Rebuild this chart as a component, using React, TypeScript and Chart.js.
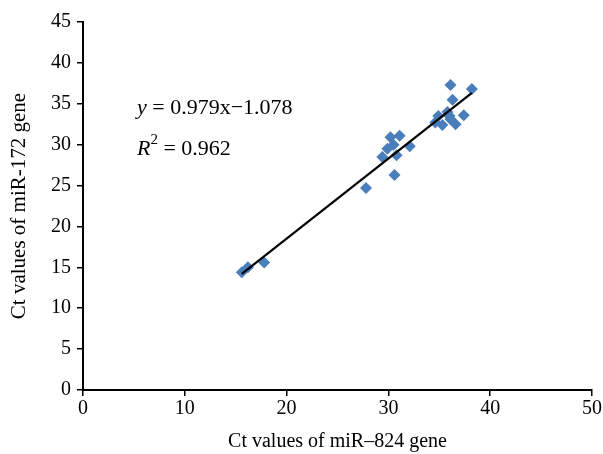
import React, { useEffect, useRef } from "react";
import { Chart, registerables } from "chart.js";

Chart.register(...registerables);

const xValues = [15.6, 16.2, 17.8, 27.8, 30.6, 29.4, 30.2, 31.1, 30.5, 29.9, 30.8, 32.1, 34.6, 34.9, 35.3, 35.8, 36.1, 36.6, 37.4, 36.3, 36.1, 38.2, 36.0];
const yValues = [14.4, 15.0, 15.6, 24.7, 26.3, 28.5, 30.9, 31.1, 30.0, 29.5, 28.7, 29.8, 32.7, 33.5, 32.4, 34.0, 33.1, 32.5, 33.6, 35.5, 37.3, 36.8, 33.5];
const slope = 0.979;
const intercept = -1.078;
const r2 = "0.962";
const xTitle = "Ct values of miR\u2013824 gene";
const yTitle = "Ct values of miR-172 gene";

const FONT = "'Liberation Serif', 'Times New Roman', serif";

export default function App() {
  const ref = useRef<HTMLCanvasElement | null>(null);
  useEffect(() => {
    document.body.style.margin = "0";
    const xMin = Math.min(...xValues);
    const xMax = Math.max(...xValues);
    const trend = [
      { x: xMin, y: slope * xMin + intercept },
      { x: xMax, y: slope * xMax + intercept },
    ];
    const annot = {
      id: "annot",
      afterDraw(chart: any) {
        const ctx = chart.ctx;
        ctx.save();
        ctx.fillStyle = "#000";
        ctx.textBaseline = "middle";
        const fs = 22;
        let x = 137;
        let y = 108;
        ctx.font = `italic ${fs}px ${FONT}`;
        ctx.fillText("y", x, y);
        x += ctx.measureText("y").width;
        ctx.font = `${fs}px ${FONT}`;
        const s1 = ` = ${slope}x\u2212${Math.abs(intercept)}`;
        ctx.fillText(s1, x, y);
        x = 137;
        y = 149;
        ctx.font = `italic ${fs}px ${FONT}`;
        ctx.fillText("R", x, y);
        x += ctx.measureText("R").width;
        ctx.font = `15px ${FONT}`;
        ctx.fillText("2", x, y - 9);
        x += ctx.measureText("2").width;
        ctx.font = `${fs}px ${FONT}`;
        ctx.fillText(` = ${r2}`, x, y);
        ctx.restore();
      },
    };
    const chart = new Chart(ref.current!, {
      type: "scatter",
      data: {
        datasets: [
          {
            data: xValues.map((x, i) => ({ x, y: yValues[i] })),
            pointStyle: "rectRot",
            pointRadius: 6,
            backgroundColor: "#4a7ebb",
            borderColor: "#4a7ebb",
            borderWidth: 0,
            order: 2,
          },
          {
            type: "line",
            data: trend,
            borderColor: "#000",
            borderWidth: 2.2,
            pointRadius: 0,
            showLine: true,
            order: 1,
          } as any,
        ],
      },
      options: {
        animation: false,
        responsive: false,
        layout: { padding: { left: 0, right: 7, top: 22, bottom: 0 } },
        plugins: { legend: { display: false }, tooltip: { enabled: false } },
        scales: {
          x: {
            type: "linear",
            min: 0,
            max: 50,
            ticks: { stepSize: 10, color: "#000", font: { family: FONT, size: 20 }, padding: 1, maxRotation: 0 },
            grid: { drawOnChartArea: false, drawTicks: true, tickLength: 6, color: "#000", lineWidth: 1.5 },
            border: { color: "#000", width: 2 },
            title: { display: true, text: xTitle, color: "#000", font: { family: FONT, size: 20 }, padding: { top: 2, bottom: 0 } },
            afterFit(scale: any) {
              scale.height = 64;
            },
          },
          y: {
            type: "linear",
            min: 0,
            max: 45,
            ticks: { stepSize: 5, color: "#000", font: { family: FONT, size: 20 }, padding: 6 },
            grid: { drawOnChartArea: false, drawTicks: true, tickLength: 6, color: "#000", lineWidth: 1.5 },
            border: { color: "#000", width: 2 },
            title: { display: true, text: yTitle, color: "#000", font: { family: FONT, size: 21 }, padding: { top: 7, bottom: 4 } },
            afterFit(scale: any) {
              scale.width = 83;
            },
          },
        },
      },
      plugins: [annot],
    });
    return () => chart.destroy();
  }, []);
  return (
    <div style={{ width: 603, height: 454, background: "#fff" }}>
      <canvas ref={ref} width={603} height={454} style={{ width: 603, height: 454 }} />
    </div>
  );
}
